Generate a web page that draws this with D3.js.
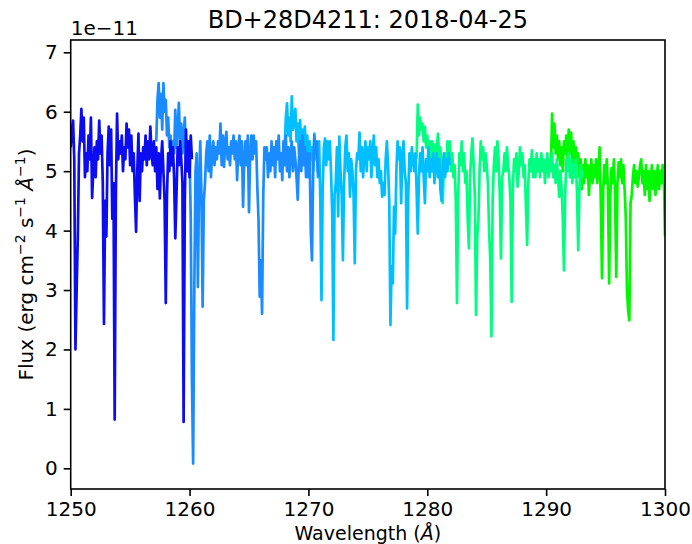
<!DOCTYPE html>
<html><head><meta charset="utf-8">
<script src="https://cdn.jsdelivr.net/npm/d3@7"></script>
<style>body{margin:0;background:#fff} text{font-family:"DejaVu Sans",sans-serif}</style>
</head><body><svg id="c" width="692" height="544"></svg>
<script>
const title = "BD+28D4211: 2018-04-25";
const xTicks = [1250,1260,1270,1280,1290,1300];
const yTicks = [0,1,2,3,4,5,6,7];
const offsetLabel = "1e\u221211";
const xDomain = [1250, 1300];
const yDomain = [-0.348, 7.207];
const step = 0.1;

const seg1Start = 1250.0;
const seg1Flux = [5.4,5.7,5.85,5.2,2.0,3.0,3.9,5.3,5.6,6.05,
 5.5,5.9,4.9,5.3,5.0,5.6,5.2,5.9,4.55,5.0,
 5.4,4.9,5.5,5.2,5.85,5.3,5.6,4.8,2.43,4.5,
 3.9,5.3,5.75,5.1,5.7,4.2,4.8,0.82,4.6,5.97,
 5.2,5.5,5.3,5.6,5.0,5.4,5.2,5.8,5.4,5.7,
 5.1,5.6,5.0,5.3,4.6,3.98,5.0,5.63,4.5,5.3,
 5.0,5.4,5.2,5.6,5.1,5.5,5.2,5.75,5.3,5.1,
 5.5,5.0,5.4,4.7,5.3,4.54,5.2,5.5,5.0,4.5,
 2.78,4.6,5.3,5.0,5.5,5.1,5.4,4.9,3.87,4.6,
 5.4,5.1,5.5,5.2,4.8,0.78,4.5,5.7,5.0,5.5,
 4.9,5.6,5.2];

const seg2Start = 1257.2;
const seg2Flux = [5.5,6.2,6.48,5.9,6.3,5.7,6.48,6.0,
 6.2,5.6,5.9,5.4,5.6,5.2,5.5,5.3,6.03,5.4,
 5.7,6.15,5.5,5.8,5.3,5.6,5.9,5.2,5.5,5.0,
 5.3,4.2,1.5,0.08,3.0,5.0,5.3,3.05,4.8,5.5,
 4.6,2.72,4.5,4.8,5.3,5.5,5.0,5.6,4.9,5.3,
 5.5,5.1,5.4,5.2,5.5,5.3,5.8,5.1,5.6,5.07,
 5.5,5.66,5.2,5.4,5.1,5.5,5.3,5.6,5.2,5.5,
 4.85,5.4,5.6,5.1,5.5,4.4,5.2,5.5,5.1,5.6,
 4.31,5.3,5.6,5.2,5.6,5.3,5.5,4.74,4.2,2.89,
 3.5,2.6,4.6,5.4,5.2,5.4,4.9,5.3,5.0,5.5,
 5.1,5.4,4.9,5.5,5.2,5.6,5.0,5.3,4.85,5.5,
 5.1,5.6,5.0,5.4,4.9,5.3,5.5,5.0,5.4,5.2,
 4.9,4.52,5.2,5.5,5.0,5.6,5.1,5.4,4.9,5.3,
 4.9,5.3,4.0,3.5,5.0,5.6,5.3,5.5,5.0,4.9];

const seg3Start = 1268.0;
const seg3Flux = [5.4,5.9,6.14,5.6,5.9,5.5,6.26,5.7,5.9,6.05,
 5.5,5.8,5.3,5.86,5.4,5.7,5.2,5.75,5.3,5.6,
 5.1,5.5,5.2,5.4,5.0,5.63,5.2,5.4,4.9,5.5,
 4.5,2.83,4.7,5.4,5.55,5.1,5.5,5.2,5.5,5.0,
 4.3,2.16,4.6,4.8,5.4,4.24,5.58,5.0,4.6,3.5,
 4.8,5.4,5.6,5.0,5.3,4.57,5.2,5.0,4.6,3.45,
 5.0,5.3,5.2,5.65,5.0,5.4,4.9,5.3,5.5,5.0,
 5.4,5.2,5.5,4.9,5.3,5.6,5.1,5.4,4.9,5.2,
 4.8,5.0,4.57,4.8,4.6,5.2,5.5,5.1,4.5,2.41,
 3.4,3.11,4.4,3.95,5.0,5.5,5.2,5.4,4.46,5.2,
 5.5,5.0,4.8,2.69,4.6,5.3,5.0,5.4,5.2,5.0,
 5.3,4.7,3.95,4.9,5.3,5.0,5.4,4.9,4.46,5.2,
 5.0,5.4,4.9,5.2,5.0,5.3,4.8,5.1,5.3,4.9,
 5.2,4.7,4.5,5.1,5.3,4.9,5.2,5.0,5.3,5.1];

const seg4Start = 1279.1;
const seg4Flux = [5.2,6.12,5.6,5.9,5.7,5.8,5.5,5.75,5.4,
 5.6,5.3,5.5,5.2,5.5,5.3,5.45,5.1,5.4,5.63,
 5.2,5.4,5.0,4.46,5.1,5.3,5.0,5.5,5.3,5.5,
 5.0,5.3,4.9,5.1,4.5,2.78,4.6,5.3,5.1,5.5,
 5.0,5.3,4.8,5.0,4.2,3.7,4.9,5.3,5.55,5.1,
 4.6,2.58,3.9,4.18,5.0,5.5,5.2,5.4,5.0,5.3,
 5.1,4.8,4.01,3.5,2.22,4.5,5.1,5.4,5.0,5.5,
 5.2,4.6,3.53,4.9,5.0,5.3,5.0,5.4,5.1,4.9,
 4.5,2.8,4.7,5.2,5.0,5.3,4.74,5.0,5.4,5.1,
 5.3,4.9,5.1,4.4,3.76,4.8,5.2,5.0,5.35,4.9,
 5.2,4.9,5.3,5.0,5.2,4.9,5.3,5.0,5.2,4.8,
 5.1,5.3,4.9,5.2,5.0,5.3,4.9,5.1,4.8,5.2,
 4.9,4.57,5.0,4.7,4.2,3.33,4.6,5.2,5.0,5.3,
 4.9,5.2,4.8,5.1,4.9,5.2,4.6,3.67,4.7,5.1,
 4.9,5.0];

const seg5Start = 1290.4;
const seg5Flux = [5.0,5.97,5.4,5.8,5.3,5.6,
 5.2,5.5,5.1,5.4,5.0,5.5,5.3,5.6,5.2,5.7,
 5.3,5.65,5.1,5.5,5.0,5.4,5.1,5.3,4.9,5.2,
 4.7,5.1,4.8,5.2,4.9,5.1,4.6,5.0,5.2,4.8,
 5.1,4.9,5.2,4.8,5.0,5.4,4.5,3.2,4.7,5.1,
 4.8,5.2,4.7,3.11,4.6,5.05,4.8,5.2,4.6,3.22,
 4.8,5.15,4.9,5.2,4.8,5.1,4.7,4.23,3.0,2.65,
 2.49,4.46,4.6,4.9,5.1,4.8,5.0,4.74,4.9,5.1,
 5.2,4.8,5.0,4.6,5.1,4.7,5.0,4.5,4.9,5.1,
 4.7,5.0,4.6,4.9,5.1,4.7,5.0,4.8,5.1,4.9,
 3.9];

const segStarts = [seg1Start, seg2Start, seg3Start, seg4Start, seg5Start];
const segFluxes = [seg1Flux, seg2Flux, seg3Flux, seg4Flux, seg5Flux];
const segColors = ["#0c0cf0", "#1a8cff", "#00bfff", "#00ff80", "#00f800"];

const W = 692, H = 544;
const L = 70.7, R = 665, T = 40, B = 489;
const svg = d3.select("#c");
svg.append("rect").attr("width", W).attr("height", H).attr("fill", "#fff");

const x = d3.scaleLinear().domain(xDomain).range([L, R]);
const y = d3.scaleLinear().domain(yDomain).range([B, T]);

svg.append("defs").append("clipPath").attr("id", "clip")
  .append("rect").attr("x", L).attr("y", T).attr("width", R - L).attr("height", B - T);

const segs = segStarts.map((s, k) => ({
  color: segColors[k],
  pts: segFluxes[k].map((f, i) => [Math.round((s + i * step) * 100) / 100, f])
}));

const line = d3.line().x(d => x(d[0])).y(d => y(d[1]));
const g = svg.append("g").attr("clip-path", "url(#clip)");
segs.slice().reverse().forEach(sg => {
  g.append("path").datum(sg.pts).attr("d", line)
    .attr("fill", "none").attr("stroke", sg.color)
    .attr("stroke-width", 2.7).attr("stroke-linejoin", "round");
});

// axes
const ax = svg.append("g").attr("transform", `translate(0,${B})`)
  .call(d3.axisBottom(x).tickValues(xTicks).tickSize(7).tickPadding(6).tickFormat(d3.format("d")));
const ay = svg.append("g").attr("transform", `translate(${L},0)`)
  .call(d3.axisLeft(y).tickValues(yTicks).tickSize(7).tickPadding(6).tickFormat(d3.format("d")));
[ax, ay].forEach(a => {
  a.select(".domain").remove();
  a.selectAll("line").attr("stroke", "#000").attr("stroke-width", 1.6);
  a.selectAll("text").attr("font-size", 20).attr("font-family", "DejaVu Sans").attr("fill", "#000");
});

svg.append("rect").attr("x", L).attr("y", T).attr("width", R - L).attr("height", B - T)
  .attr("fill", "none").attr("stroke", "#000").attr("stroke-width", 1.6);

svg.append("text").attr("x", (L + R) / 2).attr("y", 28).attr("text-anchor", "middle")
  .attr("font-size", 24).text(title);
svg.append("text").attr("x", L).attr("y", 35).attr("font-size", 20).text(offsetLabel);

const xl = svg.append("text").attr("x", (L + R) / 2).attr("y", 540).attr("text-anchor", "middle").attr("font-size", 19);
xl.append("tspan").text("Wavelength (");
xl.append("tspan").attr("font-style", "italic").text("Å");
xl.append("tspan").text(")");

const yl = svg.append("text").attr("transform", `translate(33,${(T + B) / 2}) rotate(-90)`)
  .attr("text-anchor", "middle").attr("font-size", 20);
yl.append("tspan").text("Flux (erg cm");
yl.append("tspan").attr("dy", -8).attr("font-size", 14).text("\u22122");
yl.append("tspan").attr("dy", 8).text(" s");
yl.append("tspan").attr("dy", -8).attr("font-size", 14).text("\u22121");
yl.append("tspan").attr("dy", 8).text(" ");
yl.append("tspan").attr("font-style", "italic").text("Å");
yl.append("tspan").attr("dy", -8).attr("font-size", 14).text("\u22121");
yl.append("tspan").attr("dy", 8).text(")");
</script></body></html>
